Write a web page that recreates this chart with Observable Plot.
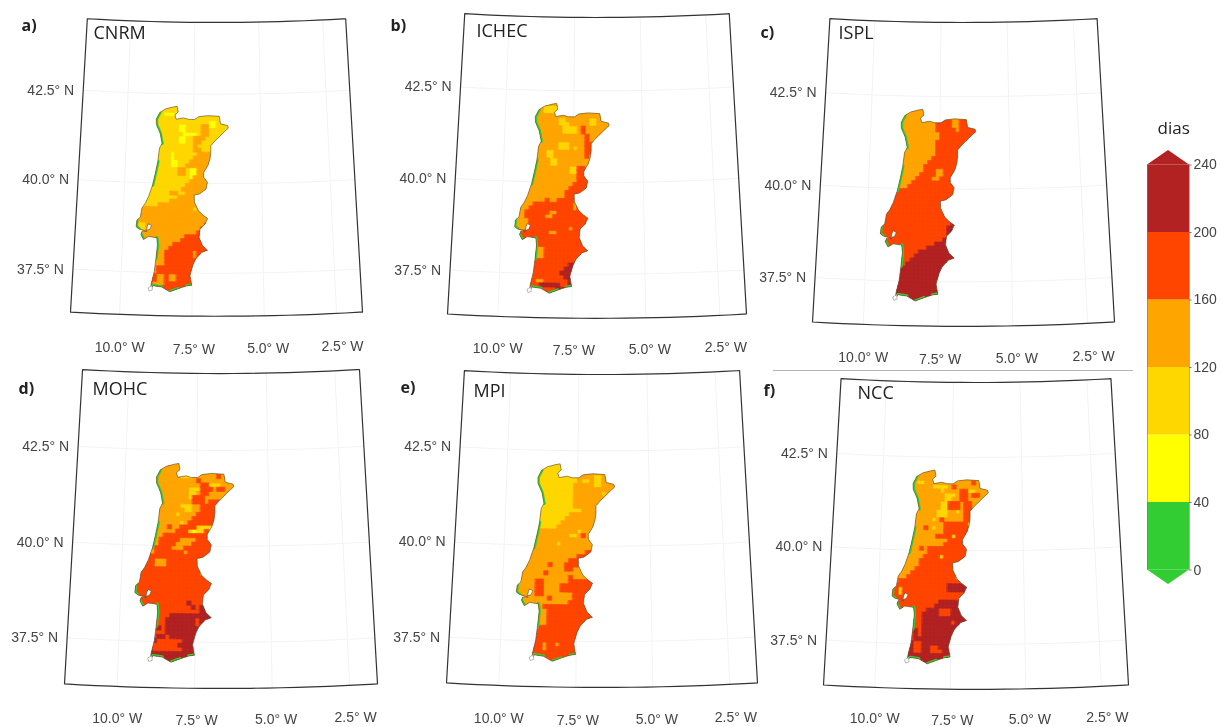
<!DOCTYPE html>
<html>
<head>
<meta charset="utf-8">
<style>
  html, body { margin: 0; padding: 0; background: #fff; }
  #page { position: relative; width: 1221px; height: 727px; overflow: hidden; }
  #page svg { position: absolute; overflow: visible; filter: blur(0.35px); }
  #rule { position: absolute; left: 773px; top: 370px; width: 360px; height: 1px; background: #b4b4b4; }
</style>
<script src="https://cdn.jsdelivr.net/npm/d3@7"></script>
<script src="https://cdn.jsdelivr.net/npm/@observablehq/plot@0.6"></script>
</head>
<body>
<div id="page"><div id="rule"></div></div>
<script>
// Day-count classes on a regular grid. Each row runs west to east, "d*n" = class d for n cells,
// the last token fills the rest of the row. Class d covers (d-1)*40 .. d*40 days.
const cnrm = ["3","3","3*7 2*3 3","3","3*19 2*2 3","3*11 2*2 3*4 4*2 2*2 3","3*11 2*2 3*4 4*2 3","3*12 2*4 3 4*2 3","3*11 2*2 3*2 4*3 3","3*11 2*2 3*2 4*2 3","3*15 4 3","3*15 4*2 3","3*9 2 3*6 4*4 3","3*9 2 3*5 4*5 3","3*9 2*2 3*3 4*6 3","3*9 2*2 3*2 4*7 3","3*11 4*2 3 2*2 4*4 3","3*11 4*2 3 2*2 4*4 3","3*14 2 4*5 3","3*14 4*6 3","3*13 4*7 3","3*12 4*8 3","3*9 4*2 3*2 4","3*11 4","3*9 4","3*6 4","4*15 3 4","4","4","4*19 5","4 3*2 4*15 5","4 3*2 4*14 5","4*16 5","4*13 5","4*12 5","4*10 5","4*9 5","4*8 5*7 4 5","4*8 5*7 4 5","4*8 5","4*8 5","4*6 5","4*6 5","5*6 4*2 5 4*2 5","5*6 4*2 5 4*2 5","5*5 4*3 5","5","5"];
const ichec = ["4","4*7 3*4 4","4*7 3*4 4","4","4*11 3*2 4*6 3*2 4","4*11 3*3 4*5 3*2 4","4*12 3*4 4 5 4","4*12 3*4 4 5 4","4*18 5 4","4*18 5 4","4*11 3*3 4*4 5*2 4","4*11 3*3 4 3 4*2 5*2 4","4*8 3*2 4*8 5*2 4","4*8 3*2 4*8 5 4","4*9 3*2 4","4*9 3*2 4","4*14 3*2 5*2 4","4*14 3*2 5*2 4","4*16 5","4*16 5","4*15 5","4*14 5","4*13 5","4*13 5","4*8 5 4*2 5","4*5 5*10 4 5","4*4 5*11 4 5","4*3 5*6 4*2 5","4*3 5*5 4*2 5","4*4 5","4*4 5","4*4 5*10 4 5","5*9 4*2 5","5","5","5","5*6 4*2 5","5*6 4*2 5","5*6 4*2 5","5","5*14 6*2 5","5*13 6*3 5","5*12 6*4 5","5*13 6*3 5","5*6 4*2 5*6 6*2 5","5*7 6*5 5*2 6*2 5","5*11 6*3 5","5"];
const ispl = ["4","4","4","4*14 5*4 4*2 5","4*14 5*4 4*2 5","4*14 5*5 4 5","4*15 5","4*15 5","4*14 5","4*14 5","4*14 5","4*14 5","4*13 5","4*12 5","4*11 5","4*11 5*3 4*2 5","4*10 5*4 4*2 5","4*9 5*4 4*2 5","4*8 5","4*7 5","5","5","5","5","5","5","5","5","5*18 6","5*17 6","5*17 6","5*17 6","5*16 6","5*14 6","5*12 6","5*10 6","5*9 6","5*8 6","5*7 6","5*5 6","6","6","6","6","6","6","6","6"];
const mohc = ["4","4","4","4*11 3*3 4*6 5 4","4*15 5 4","4*16 5*2 3*3 4","4*13 3*3 5*3 4 5*2 4","4*13 3*2 4 5*2 4","4*13 3 5*3 4","4*14 5*3 4 5","4*11 3*3 4*2 5","4*12 3*2 4*2 5","4*10 3 4*4 5","4*14 5","4*11 3 4 5","4*8 5 4*2 5*4 3*4 5","4*10 5*3 3 2 3*2 5 4*2 5","4*7 5*11 4*2 5","4*6 5*5 4*4 5","4*6 5*4 4*4 5","4*5 5*4 4*3 5","4*5 5*7 4 5","5","5*5 4*3 5","5*5 4*3 5","5*16 4 5","5*16 4 5","5","5","5","5","5","5","5*13 6 5","5*14 6 5 6","5*16 6","5*9 6","5*8 6*7 5 6","5*8 6*7 5 6","5*6 6 5 6","5*8 6","5*6 6*2 5 6","6*6 5*6 6","5*11 6","6*5 5*7 6","6","6","6"];
const mpi = ["3*15 4","3*15 4","3*15 4","3*15 4*4 3*2 4","3*15 4 3*2 4 3*2 4","3*14 4*5 3*2 4","3*14 4","3*14 4*7 3 4","3*14 4","3*14 4","3*14 4","3*16 4","3*13 4","3*12 4","3*11 4","3*10 4","4*15 3 4","4*13 3*2 4 5 4","4","4*10 3 4","4","4*17 5*3 4","4*15 5*3 3 5 4","4*13 5*4 4","4*8 5 4*3 5*4 4","4*12 5*2 4","4*7 5 4","4*13 5 4","4*5 5*2 4*6 5*7 4","4*5 5*2 4*4 5*8 4","4*5 5*2 4*4 5","4*5 5*2 4*7 5","4*8 5 4*5 5","4*13 5","4*7 5","4*8 5","4*8 5","4*8 5","4*8 5","4*6 5","5","5","5","5*7 4 5*2 4 5","5*7 4 5","5","5","5"];
const ncc = ["4","4","4","4*6 3*2 4*12 5 4","4*10 3*4 4 5 4","4*12 3 4*4 5*2 3*2 4","4*13 3*3 4 5*2 4 5*2 4","4*13 3*2 4*2 5*2 4","4*12 3*2 5*3 4 5*2 4","4*12 3*2 5*3 4 5*2 4","4*11 3*3 4*2 3 4 5*2 4","4*11 3*3 4*4 5*2 4","4*10 3 4 5 4*5 5*2 4","4*13 5*6 3 4","4*8 5 4 3 4*2 5","4*13 5","4*11 5*4 3 5","4*14 5","4*13 5","4*7 5 4 5","4*9 5","4*8 5*4 3 5","4*7 5","4*7 5","4*6 5","4*5 5","4*4 5*12 4 5","4*2 5","5*14 6","5*2 3 5*11 6","5*2 3 5","5","5*12 6","5*11 6","5*9 6*3 5*3 6","5*8 6*4 5*3 6","5*8 6","5*8 6*7 5 6","5*8 6","5*6 6 5 6","5*6 6 5 6","5*6 6","6*6 5*2 6","6*6 5*2 6*2 5*2 6","6*6 5*2 6*2 5*3 6","6","6","6"];

const gridWest = -9.6, gridNorth = 42.2, cellLon = 0.14, cellLat = 0.11, gridCols = 25;

// Mainland Portugal, clockwise from the mouth of the Minho, [longitude, latitude]
const portugal = [[-8.90,41.79],[-8.78,41.97],[-8.57,42.07],[-8.28,42.13],[-8.13,42.15],[-8.09,41.99],[-8.21,41.91],[-8.16,41.79],[-7.88,41.83],[-7.69,41.79],[-7.47,41.79],[-7.31,41.87],[-6.98,41.90],[-6.55,41.88],[-6.50,41.67],[-6.23,41.62],[-6.21,41.55],[-6.36,41.45],[-6.53,41.32],[-6.70,41.20],[-6.86,41.06],[-6.86,40.87],[-6.89,40.69],[-6.97,40.50],[-7.12,40.31],[-7.12,40.18],[-6.98,40.04],[-7.03,39.85],[-7.27,39.71],[-7.46,39.68],[-7.45,39.48],[-7.30,39.24],[-7.12,39.11],[-6.97,39.03],[-7.06,38.87],[-7.24,38.73],[-7.27,38.49],[-7.14,38.26],[-6.97,38.14],[-7.17,38.08],[-7.38,37.90],[-7.49,37.71],[-7.58,37.44],[-7.52,37.16],[-7.70,37.14],[-7.99,37.06],[-8.28,36.97],[-8.57,37.10],[-8.87,37.13],[-8.96,37.01],[-8.93,37.20],[-8.84,37.52],[-8.79,37.90],[-8.75,38.27],[-8.78,38.47],[-9.08,38.50],[-9.25,38.41],[-9.35,38.55],[-9.31,38.64],[-9.13,38.64],[-9.42,38.70],[-9.53,38.76],[-9.51,38.94],[-9.39,39.03],[-9.34,39.29],[-9.22,39.43],[-9.11,39.62],[-8.98,39.94],[-8.89,40.27],[-8.81,40.60],[-8.76,40.97],[-8.67,41.11],[-8.75,41.39],[-8.89,41.62],[-8.90,41.79]];
const tagus = [[-9.08,38.85],[-8.98,38.81],[-9.04,38.70],[-9.15,38.67],[-9.13,38.77],[-9.08,38.85]];
const cape = [[-9.03,37.07],[-8.91,37.13],[-8.89,37.01],[-8.99,36.98],[-9.03,37.07]];
const lowCoast = [
  [[-8.67,41.11],[-8.75,41.39],[-8.89,41.62],[-8.90,41.79],[-8.78,41.97]],
  [[-8.81,40.60],[-8.89,40.27],[-8.98,39.94]],
  [[-9.51,38.94],[-9.53,38.76],[-9.42,38.70],[-9.35,38.55],[-9.25,38.41]],
  [[-8.78,38.47],[-8.75,38.27],[-8.79,37.90]],
  [[-8.87,37.13],[-8.57,37.10]],
  [[-8.28,36.97],[-7.99,37.06]],
  [[-7.70,37.14],[-7.52,37.16]]
];

const mapExtent = [[-11.7, 36.3], [-1.6, 44.5]];
const latTicks = [42.5, 40, 37.5];
const lonTicks = [-10, -7.5, -5, -2.5];
const classBreaks = [0, 40, 80, 120, 160, 200, 240];
const classColors = ["#32cd32", "#ffff00", "#ffd700", "#ffa500", "#ff4500", "#b22222"];

const colorScale = {type: "threshold", domain: classBreaks.slice(1, -1), range: classColors};
const valueOfClass = (k) => (k - 0.5) * 40;

function cellFeatures(rows) {
  const byClass = new Map();
  rows.forEach((row, r) => {
    const runs = row.split(" ");
    let c = 0;
    runs.forEach((tok, i) => {
      const [d, n] = tok.split("*");
      const count = i === runs.length - 1 ? gridCols - c : +(n || 1);
      for (let j = 0; j < count; ++j, ++c) {
        const w = gridWest + c * cellLon, e = w + cellLon;
        const north = gridNorth - r * cellLat, south = north - cellLat;
        if (!byClass.has(+d)) byClass.set(+d, []);
        byClass.get(+d).push([[[w, north], [e, north], [e, south], [w, south], [w, north]]]);
      }
    });
  });
  return [...byClass].sort((a, b) => a[0] - b[0]).map(([k, coordinates]) => ({
    type: "Feature", properties: {dias: valueOfClass(k)}, geometry: {type: "MultiPolygon", coordinates}
  }));
}

const land = {type: "Polygon", coordinates: [portugal]};
const coastFeature = {type: "Feature", properties: {dias: valueOfClass(1)}, geometry: {type: "MultiLineString", coordinates: lowCoast}};
const graticule = d3.geoGraticule().extent(mapExtent).step([2.5, 2.5]).precision(0.5);
const frameShape = graticule.outline();
const gridLines = graticule();
const fmt = (v) => v.toFixed(1) + "°";

const M = {left: 80, right: 24, top: 8, bottom: 52};
const lonLabelShift = [0, 2, 4, 6];
const page = document.getElementById("page");

// left/top/width: position of the frame on the page
const panels = [
  {letter: "a)", name: "CNRM", rows: cnrm, left: 70, top: 17, width: 292, lx: 21, ly: 25, nx: 93, ny: 33, lonDy: 33},
  {letter: "b)", name: "ICHEC", rows: ichec, left: 447, top: 12, width: 299, lx: 390, ly: 25, nx: 476, ny: 31, lonDy: 32},
  {letter: "c)", name: "ISPL", rows: ispl, left: 812, top: 17, width: 302, lx: 760, ly: 32, nx: 838, ny: 33, lonDy: 33},
  {letter: "d)", name: "MOHC", rows: mohc, left: 64, top: 368, width: 313, lx: 18, ly: 388, nx: 92, ny: 389, lonDy: 32},
  {letter: "e)", name: "MPI", rows: mpi, left: 446, top: 369, width: 311, lx: 400, ly: 387, nx: 473, ny: 391, lonDy: 33},
  {letter: "f)", name: "NCC", rows: ncc, left: 823, top: 377, width: 305, lx: 763, ly: 390, nx: 857, ny: 393, lonDy: 31}
];

for (const p of panels) {
  const innerH = Math.round(p.width * 1.027);
  const svgLeft = p.left - M.left, svgTop = p.top - M.top;
  const lonLabels = lonTicks.map((lon, i) => ({lon, shift: lonLabelShift[i]}));
  const chart = Plot.plot({
    width: p.width + M.left + M.right,
    height: innerH + M.top + M.bottom,
    marginLeft: M.left, marginRight: M.right, marginTop: M.top, marginBottom: M.bottom,
    style: {background: "transparent", fontFamily: "'Liberation Sans', Arial, sans-serif"},
    projection: {type: "conic-conformal", parallels: [36, 45], rotate: [6.65, 0], domain: frameShape, clip: false},
    color: colorScale,
    marks: [
      Plot.geo(gridLines, {stroke: "#f3f3f6", strokeWidth: 1}),
      Plot.geo(cellFeatures(p.rows), {fill: (d) => d.properties.dias, stroke: (d) => d.properties.dias, strokeWidth: 0.7, clip: land}),
      Plot.geo([coastFeature], {stroke: (d) => d.properties.dias, fill: "none", strokeWidth: 3.5, clip: land}),
      Plot.geo(land, {stroke: "#5c5030", strokeWidth: 0.8, strokeOpacity: 0.8, fill: "none"}),
      Plot.geo({type: "Polygon", coordinates: [tagus]}, {fill: "#fff", stroke: "#5c5030", strokeWidth: 0.6}),
      Plot.geo({type: "Polygon", coordinates: [cape]}, {fill: "#fff", stroke: "#999", strokeWidth: 0.7}),
      Plot.geo(frameShape, {stroke: "#333", strokeWidth: 1.2, fill: "none"}),
      Plot.text(latTicks, {x: mapExtent[0][0], y: (d) => d, text: (d) => fmt(d) + " N", textAnchor: "end", dx: -9, fontSize: 14, fill: "#444"}),
      ...lonLabels.map((l) => Plot.text([l], {x: "lon", y: mapExtent[0][1], text: (d) => fmt(-d.lon) + " W", dx: l.shift, dy: p.lonDy, fontSize: 14, fill: "#444"})),
      Plot.text([p.letter], {frameAnchor: "top-left", lineAnchor: "middle", dx: p.lx - p.left, dy: p.ly - p.top, text: (d) => d, textAnchor: "start", fontFamily: "'Open Sans', sans-serif", fontWeight: "bold", fontSize: 16, fill: "#222"}),
      Plot.text([p.name], {frameAnchor: "top-left", lineAnchor: "middle", dx: p.nx - p.left, dy: p.ny - p.top, text: (d) => d, textAnchor: "start", fontFamily: "'Open Sans', sans-serif", fontSize: 18, fill: "#222"})
    ]
  });
  chart.style.left = svgLeft + "px";
  chart.style.top = svgTop + "px";
  page.appendChild(chart);
}

// Colour key
const bins = classColors.map((_, i) => ({lo: classBreaks[i], hi: classBreaks[i + 1], mid: (classBreaks[i] + classBreaks[i + 1]) / 2}));
const tipTop = [0, 0.5, 1].map((x, i) => ({x, base: 240, tip: i === 1 ? 248.6 : 240, mid: 220}));
const tipBottom = [0, 0.5, 1].map((x, i) => ({x, base: 0, tip: i === 1 ? -8.6 : 0, mid: 20}));
const legend = Plot.plot({
  width: 91, height: 490, margin: 0,
  style: {background: "transparent", fontFamily: "'Liberation Sans', Arial, sans-serif"},
  x: {domain: [0, 1], range: [17, 59], axis: null},
  y: {domain: [-10, 250], range: [471.4, 32.6], axis: null},
  color: colorScale,
  marks: [
    Plot.rect(bins, {x1: 0, x2: 1, y1: "lo", y2: "hi", fill: "mid"}),
    Plot.areaY(tipTop, {x: "x", y1: "base", y2: "tip", fill: "mid"}),
    Plot.areaY(tipBottom, {x: "x", y1: "base", y2: "tip", fill: "mid"}),
    Plot.ruleX([0, 1], {y1: 0, y2: 240, stroke: "#777", strokeWidth: 0.6}),
    Plot.ruleY(classBreaks, {x1: 1, x2: 1.06, stroke: "#777"}),
    Plot.text(classBreaks, {x: 1, y: (d) => d, text: (d) => String(d), textAnchor: "start", dx: 4, fontSize: 14, fill: "#444"}),
    Plot.text(["dias"], {frameAnchor: "top-left", lineAnchor: "middle", dx: 27, dy: 13, text: (d) => d, textAnchor: "start", fontFamily: "'Open Sans', sans-serif", fontSize: 17, fill: "#222"})
  ]
});
legend.style.left = "1130px";
legend.style.top = "115px";
page.appendChild(legend);
</script>
</body>
</html>
